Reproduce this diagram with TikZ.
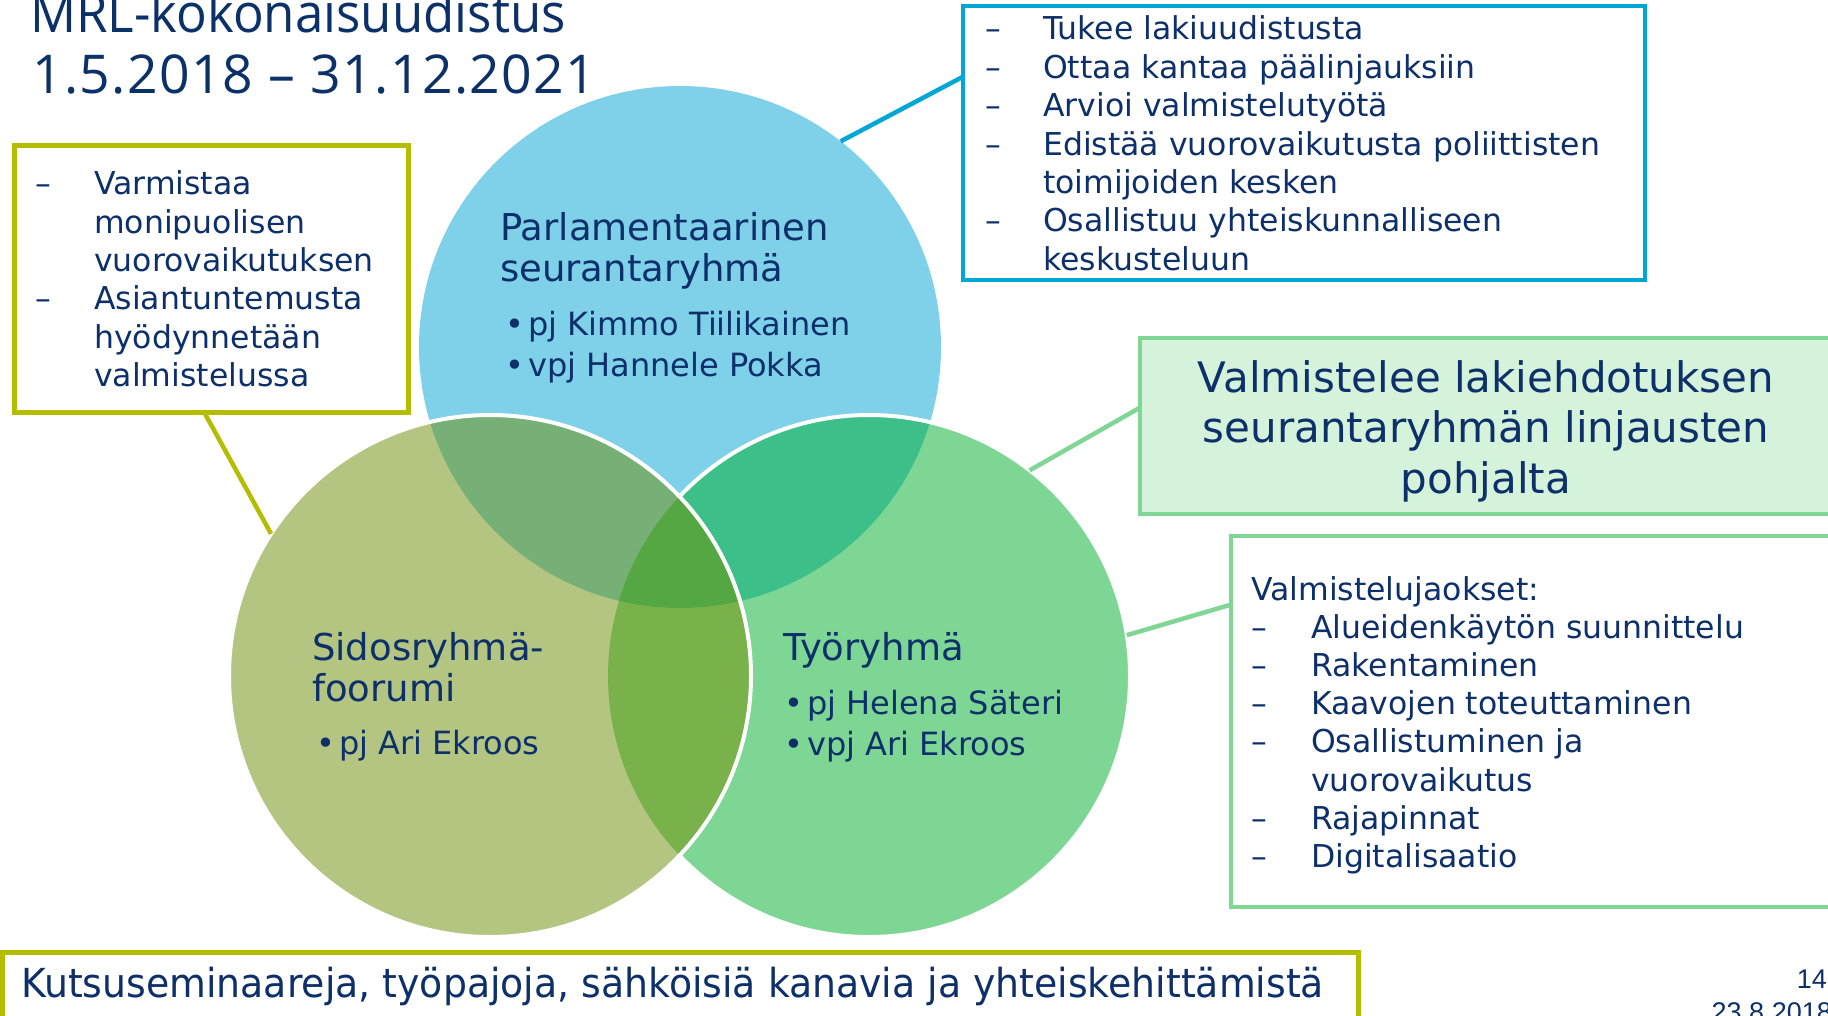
\documentclass[tikz,border=0pt]{standalone}
\usepackage{fontspec}
\setmainfont{DejaVu Sans}
\newfontfamily\titlefont[LetterSpace=2.5]{Open Sans}
\newfontfamily\titlewordfont[FakeStretch=0.945]{Open Sans}
\newfontfamily\slimfont[FakeStretch=0.945]{DejaVu Sans}
\newfontfamily\pagefont{Liberation Sans}
\usetikzlibrary{positioning}

\definecolor{textnavy}{HTML}{0D2F6A}
\definecolor{titlenavy}{HTML}{0B3168}
\definecolor{parlblue}{HTML}{7FD1E9}
\definecolor{sidosolive}{HTML}{B4C581}
\definecolor{tyogreen}{HTML}{7DD694}
\definecolor{parlsidos}{HTML}{77B077}
\definecolor{parltyo}{HTML}{3DBF89}
\definecolor{sidostyo}{HTML}{79B24A}
\definecolor{kaikki}{HTML}{55A743}
\definecolor{lineblue}{HTML}{00A6D6}
\definecolor{lineolive}{HTML}{B5BD00}
\definecolor{linegreen}{HTML}{7FD695}
\definecolor{boxgreen}{HTML}{D5F2DB}

\newcommand{\vennr}{261pt}

\tikzset{
  venn/.style={circle, minimum size=522pt, inner sep=0pt, outer sep=0pt},
  infobox/.style={rectangle, draw, line width=4.5pt, fill=white, inner sep=0pt, outer sep=0pt},
  txt/.style={inner sep=0pt, anchor=base west, text=textnavy},
  listtext/.style={txt, font=\fontsize{31.5}{38}\selectfont},
  head/.style={txt, font=\fontsize{37}{41}\selectfont},
  bul/.style={txt, font=\fontsize{32}{41}\selectfont},
  link/.style={line width=4.5pt},
  rim/.style={draw=white, line width=4pt},
}

\begin{document}
\begin{tikzpicture}[x=1pt, y=-1pt]
  \fill[white] (0,0) rectangle (1828,1016);
  \useasboundingbox (0,0) rectangle (1828,1016);

  % circles
  \node[venn, fill=parlblue] (parl) at (680,347) {};
  \node[venn, fill=sidosolive] (sidos) at (490,676) {};
  \node[venn, fill=tyogreen] (tyo) at (869,676) {};

  \begin{scope}
    \clip (parl.center) circle [radius=\vennr];
    \fill[parltyo] (tyo.center) circle [radius=\vennr];
  \end{scope}
  \draw[rim] (tyo.center) circle [radius=\vennr];
  \fill[sidosolive] (sidos.center) circle [radius=\vennr];
  \begin{scope}
    \clip (parl.center) circle [radius=\vennr];
    \fill[parlsidos] (sidos.center) circle [radius=\vennr];
  \end{scope}
  \begin{scope}
    \clip (tyo.center) circle [radius=\vennr];
    \fill[sidostyo] (sidos.center) circle [radius=\vennr];
    \clip (parl.center) circle [radius=\vennr];
    \fill[kaikki] (sidos.center) circle [radius=\vennr];
  \end{scope}
  \draw[rim] (sidos.center) circle [radius=\vennr];

  % title
  \node[txt, text=titlenavy, font=\titlewordfont\fontsize{54}{60}\selectfont] (title1) at (30,33) {MRL-kokonaisuudistus};
  \node[txt, text=titlenavy, font=\titlefont\fontsize{53.5}{60}\selectfont] (title2) at (32,94) {1.5.2018 – 31.12.2021};

  % texts in the circles
  \node[head] (parlhead1) at (500,241) {Parlamentaarinen};
  \node[head] (parlhead2) at (500,282) {seurantaryhmä};
  \node[bul] (parlbul1) at (505,335) {\textbullet\kern4pt pj Kimmo Tiilikainen};
  \node[bul] (parlbul2) at (505,376) {\textbullet\kern4pt vpj Hannele Pokka};

  \node[head] (sidoshead1) at (312,660) {Sidosryhmä-};
  \node[head] (sidoshead2) at (312,701) {foorumi};
  \node[bul] (sidosbul) at (316,754) {\textbullet\kern4pt pj Ari Ekroos};

  \node[head] (tyohead) at (783,660) {Työryhmä};
  \node[bul] (tyobul1) at (784,714) {\textbullet\kern4pt pj Helena Säteri};
  \node[bul] (tyobul2) at (784,755) {\textbullet\kern4pt vpj Ari Ekroos};

  % boxes
  \node[infobox, draw=lineblue, minimum width=682pt, minimum height=274pt] (parlbox) at (1304,143) {};
  \node[infobox, draw=lineolive, line width=5pt, minimum width=394pt, minimum height=266pt] (sidosbox) at (211,279) {};
  \node[infobox, draw=linegreen, fill=boxgreen, minimum width=700pt, minimum height=176pt] (valmbox) at (1490,426) {};
  \node[infobox, draw=linegreen, minimum width=609pt, minimum height=371pt] (jaosbox) at (1535.5,721.5) {};
  \node[infobox, draw=lineolive, line width=5pt, minimum width=1356pt, minimum height=90pt] (kutsubox) at (680,997) {};

  % connectors
  \draw[link, lineblue] (parlbox.169) -- (parl.52.6);
  \draw[link, lineolive] (sidosbox.267) -- (sidos.147);
  \draw[link, linegreen] (valmbox.177) -- (tyo.52.3);
  \draw[link, linegreen] (jaosbox.159.2) -- (tyo.9.5);

  % box texts
  \foreach \d/\t [count=\i from 0] in {–/Tukee lakiuudistusta, –/Ottaa kantaa päälinjauksiin, –/Arvioi valmistelutyötä, –/Edistää vuorovaikutusta poliittisten, {}/toimijoiden kesken, –/Osallistuu yhteiskunnalliseen, {}/keskusteluun}
    \node[listtext] (parlitem\i) at (985, 40+38.4*\i) {\makebox[58pt][l]{\d}\t};

  \foreach \d/\t [count=\i from 0] in {–/Varmistaa, {}/monipuolisen, {}/vuorovaikutuksen, –/Asiantuntemusta, {}/hyödynnetään, {}/valmistelussa}
    \node[listtext] (sidositem\i) at (35, 195+38.3*\i) {\makebox[59pt][l]{\d}\t};

  \foreach \t [count=\i from 0] in {Valmistelee lakiehdotuksen, seurantaryhmän linjausten, pohjalta}
    \node[txt, anchor=base, font=\fontsize{42}{50}\selectfont] (valm\i) at (1486, 392+50.5*\i) {\t};

  \node[listtext] (jaoshead) at (1251,600) {Valmistelujaokset:};
  \foreach \d/\t [count=\i from 0] in {–/Alueidenkäytön suunnittelu, –/Rakentaminen, –/Kaavojen toteuttaminen, –/Osallistuminen ja, {}/vuorovaikutus, –/Rajapinnat, –/Digitalisaatio}
    \node[listtext] (jaositem\i) at (1251, 638.2+38.2*\i) {\makebox[60pt][l]{\d}\t};

  \node[txt, font=\slimfont\fontsize{40}{44}\selectfont] (kutsutext) at (21,997) {Kutsuseminaareja, työpajoja, sähköisiä kanavia ja yhteiskehittämistä};

  % page footer
  \node[txt, anchor=base east, font=\pagefont\fontsize{27}{30}\selectfont] (sivu) at (1827,988) {14};
  \node[txt, anchor=base east, font=\pagefont\fontsize{27}{30}\selectfont] (pvm) at (1832,1021) {23.8.2018};
\end{tikzpicture}
\end{document}
